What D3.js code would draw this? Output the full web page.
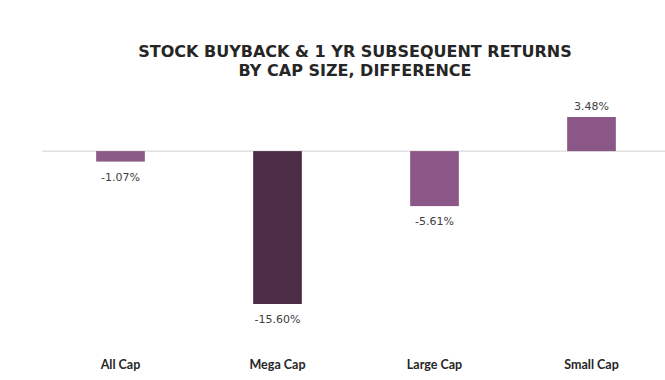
<!DOCTYPE html>
<html><head><meta charset="utf-8">
<script src="https://cdn.jsdelivr.net/npm/d3@7"></script>
<style>body{margin:0;background:#fff}</style>
</head><body>
<svg id="c" width="665" height="380"></svg>
<script>
const categories = ["All Cap", "Mega Cap", "Large Cap", "Small Cap"];
const values = [-1.07, -15.60, -5.61, 3.48];
const barColors = ["#8b5a87", "#4b2d46", "#8b5786", "#8b5786"];
const titleLines = ["STOCK BUYBACK & 1 YR SUBSEQUENT RETURNS", "BY CAP SIZE, DIFFERENCE"];

const svg = d3.select("#c");
const x = d3.scaleBand().domain(categories).range([42, 670]).paddingInner(0.69).paddingOuter(0.345);
const y = d3.scaleLinear().domain([-15.6, 3.48]).range([304, 117]);

svg.append("g").selectAll("text").data(titleLines).join("text")
  .attr("x", 355).attr("y", (d,i) => 57 + i*19)
  .attr("text-anchor", "middle")
  .attr("font-family", "'DejaVu Sans', sans-serif").attr("font-weight", "bold")
  .attr("font-size", 16).attr("fill", "#262626").text(d => d);

svg.append("line").attr("x1", 42).attr("x2", 665).attr("y1", y(0)).attr("y2", y(0))
  .attr("stroke", "#d0d0d0").attr("stroke-width", 1);

svg.append("g").selectAll("rect").data(values).join("rect")
  .attr("x", (d,i) => x(categories[i]))
  .attr("width", x.bandwidth())
  .attr("y", d => y(Math.max(0, d)))
  .attr("height", d => Math.abs(y(d) - y(0)))
  .attr("fill", (d,i) => barColors[i]);

svg.append("g").selectAll("text").data(values).join("text")
  .attr("x", (d,i) => x(categories[i]) + x.bandwidth()/2)
  .attr("y", d => d < 0 ? y(d) + 19 : y(d) - 7)
  .attr("text-anchor", "middle")
  .attr("font-family", "'DejaVu Sans', sans-serif").attr("font-size", 11)
  .attr("fill", "#404040").text(d => d.toFixed(2) + "%");

const xAxis = d3.axisBottom(x).tickSize(0).tickPadding(0);
const gx = svg.append("g").attr("transform", "translate(0,360)").call(xAxis);
gx.select(".domain").remove();
gx.selectAll("text").attr("font-family", "Lato, sans-serif").attr("font-size", 12.5)
  .attr("font-weight", "bold").attr("fill", "#262626");
</script>
</body></html>
